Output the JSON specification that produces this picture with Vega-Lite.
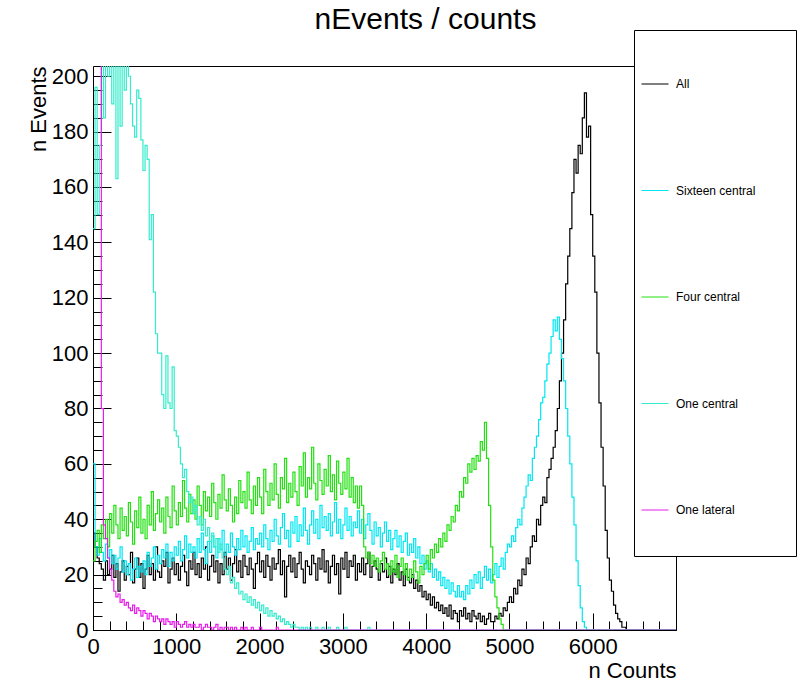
{
"$schema": "https://vega.github.io/schema/vega-lite/v6.json",
"width": 583, "height": 564,
"autosize": "none",
"padding": {"left": 93, "top": 66, "right": 122, "bottom": 52},
"background": "white",
"config": {
  "view": {"stroke": "black", "strokeWidth": 1},
  "font": "Liberation Sans",
  "axis": {"grid": false, "domain": false, "labelFont": "Liberation Sans", "titleFont": "Liberation Sans", "labelColor": "black", "titleColor": "black", "tickColor": "black", "tickWidth": 1, "titleFontWeight": "normal"}
},
"title": {"text": "nEvents / counts", "fontSize": 30, "font": "Liberation Sans", "fontWeight": "normal", "color": "black", "anchor": "middle", "dx": 41, "dy": 29, "baseline": "alphabetic", "offset": 0},
"data": {"values": [
{"x":0,"a":35,"b":60,"c":25,"d":145,"e":215},
{"x":25,"a":30,"b":30,"c":32,"d":196,"e":215},
{"x":50,"a":26,"b":27,"c":36,"d":150,"e":215},
{"x":75,"a":24,"b":33,"c":28,"d":175,"e":212},
{"x":100,"a":22,"b":28,"c":38,"d":210,"e":80},
{"x":125,"a":18,"b":25,"c":33,"d":185,"e":38},
{"x":150,"a":25,"b":31,"c":40,"d":215,"e":33},
{"x":175,"a":20,"b":26,"c":30,"d":200,"e":26},
{"x":200,"a":22,"b":29,"c":42,"d":210,"e":22},
{"x":225,"a":27,"b":24,"c":35,"d":190,"e":18},
{"x":250,"a":19,"b":27,"c":45,"d":212,"e":14},
{"x":275,"a":24,"b":22,"c":38,"d":163,"e":12},
{"x":300,"a":14,"b":26,"c":33,"d":205,"e":13},
{"x":325,"a":21,"b":30,"c":44,"d":182,"e":10},
{"x":350,"a":25,"b":21,"c":36,"d":210,"e":11},
{"x":375,"a":18,"b":25,"c":41,"d":195,"e":9},
{"x":400,"a":23,"b":20,"c":34,"d":215,"e":10},
{"x":425,"a":20,"b":24,"c":46,"d":200,"e":8},
{"x":450,"a":28,"b":18,"c":39,"d":190,"e":7},
{"x":475,"a":17,"b":22,"c":31,"d":182,"e":9},
{"x":500,"a":22,"b":26,"c":43,"d":178,"e":6},
{"x":525,"a":26,"b":19,"c":37,"d":195,"e":8},
{"x":550,"a":19,"b":23,"c":48,"d":192,"e":7},
{"x":575,"a":24,"b":21,"c":35,"d":177,"e":5},
{"x":600,"a":15,"b":25,"c":40,"d":166,"e":7},
{"x":625,"a":22,"b":20,"c":33,"d":175,"e":6},
{"x":650,"a":27,"b":28,"c":45,"d":170,"e":4},
{"x":675,"a":20,"b":23,"c":38,"d":141,"e":6},
{"x":700,"a":24,"b":26,"c":50,"d":150,"e":5},
{"x":725,"a":18,"b":30,"c":36,"d":122,"e":3},
{"x":750,"a":30,"b":22,"c":42,"d":107,"e":5},
{"x":775,"a":21,"b":27,"c":47,"d":100,"e":4},
{"x":800,"a":19,"b":24,"c":39,"d":100,"e":3},
{"x":825,"a":25,"b":29,"c":44,"d":85,"e":4},
{"x":850,"a":23,"b":26,"c":35,"d":80,"e":2},
{"x":875,"a":28,"b":31,"c":48,"d":99,"e":4},
{"x":900,"a":17,"b":23,"c":41,"d":82,"e":3},
{"x":925,"a":22,"b":28,"c":37,"d":80,"e":2},
{"x":950,"a":26,"b":25,"c":52,"d":95,"e":3},
{"x":975,"a":20,"b":30,"c":43,"d":72,"e":1},
{"x":1000,"a":24,"b":27,"c":38,"d":70,"e":3},
{"x":1025,"a":18,"b":32,"c":46,"d":66,"e":2},
{"x":1050,"a":23,"b":25,"c":41,"d":60,"e":1},
{"x":1075,"a":27,"b":29,"c":54,"d":55,"e":2},
{"x":1100,"a":21,"b":34,"c":44,"d":58,"e":3},
{"x":1125,"a":16,"b":26,"c":39,"d":50,"e":1},
{"x":1150,"a":25,"b":31,"c":49,"d":46,"e":2},
{"x":1175,"a":22,"b":28,"c":42,"d":48,"e":1},
{"x":1200,"a":28,"b":30,"c":47,"d":42,"e":2},
{"x":1225,"a":20,"b":26,"c":40,"d":45,"e":1},
{"x":1250,"a":24,"b":33,"c":52,"d":38,"e":1},
{"x":1275,"a":19,"b":28,"c":45,"d":41,"e":2},
{"x":1300,"a":26,"b":35,"c":38,"d":36,"e":0},
{"x":1325,"a":22,"b":29,"c":50,"d":40,"e":1},
{"x":1350,"a":30,"b":24,"c":43,"d":34,"e":2},
{"x":1375,"a":18,"b":32,"c":48,"d":37,"e":1},
{"x":1400,"a":23,"b":28,"c":41,"d":32,"e":1},
{"x":1425,"a":27,"b":34,"c":53,"d":35,"e":0},
{"x":1450,"a":21,"b":30,"c":46,"d":30,"e":1},
{"x":1475,"a":25,"b":26,"c":40,"d":33,"e":2},
{"x":1500,"a":17,"b":33,"c":49,"d":28,"e":0},
{"x":1525,"a":24,"b":29,"c":44,"d":31,"e":1},
{"x":1550,"a":20,"b":36,"c":56,"d":26,"e":0},
{"x":1575,"a":28,"b":27,"c":47,"d":22,"e":1},
{"x":1600,"a":22,"b":31,"c":43,"d":20,"e":1},
{"x":1625,"a":26,"b":28,"c":51,"d":23,"e":0},
{"x":1650,"a":18,"b":35,"c":45,"d":17,"e":1},
{"x":1675,"a":24,"b":30,"c":39,"d":19,"e":0},
{"x":1700,"a":29,"b":27,"c":48,"d":15,"e":1},
{"x":1725,"a":21,"b":33,"c":42,"d":17,"e":0},
{"x":1750,"a":25,"b":29,"c":54,"d":13,"e":0},
{"x":1775,"a":19,"b":36,"c":46,"d":14,"e":1},
{"x":1800,"a":27,"b":30,"c":50,"d":11,"e":0},
{"x":1825,"a":23,"b":34,"c":44,"d":13,"e":1},
{"x":1850,"a":20,"b":28,"c":57,"d":10,"e":0},
{"x":1875,"a":26,"b":32,"c":47,"d":12,"e":0},
{"x":1900,"a":22,"b":37,"c":42,"d":9,"e":1},
{"x":1925,"a":15,"b":29,"c":52,"d":11,"e":0},
{"x":1950,"a":24,"b":33,"c":45,"d":8,"e":0},
{"x":1975,"a":28,"b":31,"c":55,"d":10,"e":0},
{"x":2000,"a":21,"b":35,"c":48,"d":7,"e":1},
{"x":2025,"a":25,"b":30,"c":42,"d":9,"e":0},
{"x":2050,"a":19,"b":38,"c":58,"d":6,"e":0},
{"x":2075,"a":27,"b":33,"c":50,"d":8,"e":0},
{"x":2100,"a":23,"b":29,"c":45,"d":5,"e":0},
{"x":2125,"a":18,"b":36,"c":53,"d":7,"e":0},
{"x":2150,"a":26,"b":32,"c":47,"d":5,"e":0},
{"x":2175,"a":22,"b":40,"c":60,"d":6,"e":0},
{"x":2200,"a":24,"b":34,"c":49,"d":4,"e":1},
{"x":2225,"a":29,"b":31,"c":44,"d":5,"e":0},
{"x":2250,"a":20,"b":37,"c":55,"d":3,"e":0},
{"x":2275,"a":25,"b":42,"c":51,"d":4,"e":0},
{"x":2300,"a":12,"b":33,"c":62,"d":2,"e":0},
{"x":2325,"a":23,"b":36,"c":46,"d":3,"e":0},
{"x":2350,"a":27,"b":30,"c":53,"d":2,"e":0},
{"x":2375,"a":21,"b":39,"c":48,"d":1,"e":0},
{"x":2400,"a":26,"b":35,"c":57,"d":2,"e":0},
{"x":2425,"a":19,"b":41,"c":50,"d":1,"e":0},
{"x":2450,"a":24,"b":32,"c":45,"d":1,"e":0},
{"x":2475,"a":28,"b":38,"c":59,"d":0,"e":0},
{"x":2500,"a":22,"b":34,"c":52,"d":1,"e":0},
{"x":2525,"a":17,"b":44,"c":64,"d":0,"e":0},
{"x":2550,"a":25,"b":36,"c":48,"d":1,"e":0},
{"x":2575,"a":23,"b":31,"c":55,"d":0,"e":0},
{"x":2600,"a":20,"b":38,"c":51,"d":1,"e":0},
{"x":2625,"a":27,"b":43,"c":66,"d":0,"e":0},
{"x":2650,"a":24,"b":35,"c":53,"d":0,"e":0},
{"x":2675,"a":18,"b":40,"c":47,"d":1,"e":0},
{"x":2700,"a":26,"b":33,"c":60,"d":0,"e":0},
{"x":2725,"a":22,"b":45,"c":54,"d":0,"e":0},
{"x":2750,"a":29,"b":37,"c":49,"d":1,"e":0},
{"x":2775,"a":21,"b":41,"c":58,"d":0,"e":0},
{"x":2800,"a":25,"b":36,"c":52,"d":0,"e":0},
{"x":2825,"a":17,"b":42,"c":63,"d":1,"e":0},
{"x":2850,"a":23,"b":34,"c":50,"d":0,"e":0},
{"x":2875,"a":27,"b":39,"c":56,"d":0,"e":0},
{"x":2900,"a":20,"b":46,"c":47,"d":0,"e":0},
{"x":2925,"a":24,"b":35,"c":61,"d":1,"e":0},
{"x":2950,"a":13,"b":40,"c":53,"d":0,"e":0},
{"x":2975,"a":26,"b":33,"c":49,"d":0,"e":0},
{"x":3000,"a":22,"b":38,"c":57,"d":0,"e":0},
{"x":3025,"a":28,"b":44,"c":51,"d":1,"e":0},
{"x":3050,"a":19,"b":36,"c":62,"d":0,"e":0},
{"x":3075,"a":25,"b":41,"c":48,"d":0,"e":0},
{"x":3100,"a":23,"b":34,"c":55,"d":0,"e":0},
{"x":3125,"a":27,"b":39,"c":46,"d":0,"e":0},
{"x":3150,"a":18,"b":37,"c":52,"d":0,"e":0},
{"x":3175,"a":24,"b":43,"c":44,"d":0,"e":0},
{"x":3200,"a":21,"b":35,"c":52,"d":0,"e":0},
{"x":3225,"a":26,"b":40,"c":45,"d":0,"e":0},
{"x":3250,"a":20,"b":33,"c":30,"d":0,"e":0},
{"x":3275,"a":24,"b":38,"c":26,"d":0,"e":0},
{"x":3300,"a":28,"b":42,"c":28,"d":1,"e":0},
{"x":3325,"a":19,"b":36,"c":24,"d":0,"e":0},
{"x":3350,"a":23,"b":31,"c":27,"d":0,"e":0},
{"x":3375,"a":25,"b":39,"c":23,"d":0,"e":0},
{"x":3400,"a":22,"b":34,"c":26,"d":0,"e":0},
{"x":3425,"a":18,"b":37,"c":21,"d":0,"e":0},
{"x":3450,"a":24,"b":30,"c":25,"d":0,"e":0},
{"x":3475,"a":21,"b":35,"c":28,"d":0,"e":0},
{"x":3500,"a":26,"b":39,"c":22,"d":0,"e":0},
{"x":3525,"a":19,"b":32,"c":24,"d":0,"e":0},
{"x":3550,"a":23,"b":36,"c":20,"d":0,"e":0},
{"x":3575,"a":17,"b":29,"c":25,"d":0,"e":0},
{"x":3600,"a":22,"b":33,"c":21,"d":0,"e":0},
{"x":3625,"a":20,"b":36,"c":27,"d":0,"e":0},
{"x":3650,"a":24,"b":30,"c":19,"d":0,"e":0},
{"x":3675,"a":18,"b":34,"c":23,"d":0,"e":0},
{"x":3700,"a":21,"b":28,"c":26,"d":0,"e":0},
{"x":3725,"a":16,"b":32,"c":20,"d":0,"e":0},
{"x":3750,"a":22,"b":35,"c":24,"d":0,"e":0},
{"x":3775,"a":19,"b":27,"c":18,"d":0,"e":0},
{"x":3800,"a":17,"b":31,"c":22,"d":0,"e":0},
{"x":3825,"a":20,"b":28,"c":19,"d":0,"e":0},
{"x":3850,"a":15,"b":33,"c":25,"d":0,"e":0},
{"x":3875,"a":18,"b":26,"c":21,"d":0,"e":0},
{"x":3900,"a":14,"b":30,"c":17,"d":0,"e":0},
{"x":3925,"a":16,"b":24,"c":23,"d":0,"e":0},
{"x":3950,"a":12,"b":27,"c":20,"d":0,"e":0},
{"x":3975,"a":14,"b":22,"c":24,"d":0,"e":0},
{"x":4000,"a":11,"b":25,"c":27,"d":0,"e":0},
{"x":4025,"a":13,"b":21,"c":22,"d":0,"e":0},
{"x":4050,"a":9,"b":24,"c":29,"d":0,"e":0},
{"x":4075,"a":12,"b":19,"c":26,"d":0,"e":0},
{"x":4100,"a":8,"b":22,"c":31,"d":0,"e":0},
{"x":4125,"a":10,"b":18,"c":28,"d":0,"e":0},
{"x":4150,"a":7,"b":21,"c":33,"d":0,"e":0},
{"x":4175,"a":9,"b":16,"c":30,"d":0,"e":0},
{"x":4200,"a":6,"b":19,"c":35,"d":0,"e":0},
{"x":4225,"a":8,"b":15,"c":32,"d":0,"e":0},
{"x":4250,"a":5,"b":18,"c":38,"d":0,"e":0},
{"x":4275,"a":9,"b":13,"c":36,"d":0,"e":0},
{"x":4300,"a":4,"b":17,"c":41,"d":0,"e":0},
{"x":4325,"a":7,"b":14,"c":39,"d":0,"e":0},
{"x":4350,"a":6,"b":12,"c":45,"d":0,"e":0},
{"x":4375,"a":3,"b":16,"c":43,"d":0,"e":0},
{"x":4400,"a":7,"b":12,"c":50,"d":0,"e":0},
{"x":4425,"a":5,"b":14,"c":48,"d":0,"e":0},
{"x":4450,"a":8,"b":11,"c":55,"d":0,"e":0},
{"x":4475,"a":4,"b":16,"c":53,"d":0,"e":0},
{"x":4500,"a":6,"b":13,"c":60,"d":0,"e":0},
{"x":4525,"a":3,"b":18,"c":57,"d":0,"e":0},
{"x":4550,"a":7,"b":15,"c":62,"d":0,"e":0},
{"x":4575,"a":5,"b":20,"c":58,"d":0,"e":0},
{"x":4600,"a":4,"b":17,"c":63,"d":0,"e":0},
{"x":4625,"a":6,"b":21,"c":61,"d":0,"e":0},
{"x":4650,"a":3,"b":15,"c":68,"d":0,"e":0},
{"x":4675,"a":5,"b":19,"c":65,"d":0,"e":0},
{"x":4700,"a":2,"b":23,"c":75,"d":0,"e":0},
{"x":4725,"a":4,"b":18,"c":62,"d":0,"e":0},
{"x":4750,"a":6,"b":22,"c":45,"d":0,"e":0},
{"x":4775,"a":3,"b":17,"c":30,"d":0,"e":0},
{"x":4800,"a":3,"b":20,"c":18,"d":0,"e":0},
{"x":4825,"a":5,"b":24,"c":12,"d":0,"e":0},
{"x":4850,"a":4,"b":19,"c":8,"d":0,"e":0},
{"x":4875,"a":6,"b":23,"c":4,"d":0,"e":0},
{"x":4900,"a":5,"b":26,"c":2,"d":0,"e":0},
{"x":4925,"a":8,"b":22,"c":0,"d":0,"e":0},
{"x":4950,"a":7,"b":28,"c":0,"d":0,"e":0},
{"x":4975,"a":10,"b":31,"c":0,"d":0,"e":0},
{"x":5000,"a":12,"b":30,"c":0,"d":0,"e":0},
{"x":5025,"a":10,"b":34,"c":0,"d":0,"e":0},
{"x":5050,"a":15,"b":32,"c":0,"d":0,"e":0},
{"x":5075,"a":13,"b":37,"c":0,"d":0,"e":0},
{"x":5100,"a":18,"b":40,"c":0,"d":0,"e":0},
{"x":5125,"a":16,"b":38,"c":0,"d":0,"e":0},
{"x":5150,"a":22,"b":44,"c":0,"d":0,"e":0},
{"x":5175,"a":20,"b":48,"c":0,"d":0,"e":0},
{"x":5200,"a":26,"b":52,"c":0,"d":0,"e":0},
{"x":5225,"a":24,"b":56,"c":0,"d":0,"e":0},
{"x":5250,"a":30,"b":54,"c":0,"d":0,"e":0},
{"x":5275,"a":34,"b":62,"c":0,"d":0,"e":0},
{"x":5300,"a":32,"b":66,"c":0,"d":0,"e":0},
{"x":5325,"a":40,"b":70,"c":0,"d":0,"e":0},
{"x":5350,"a":38,"b":76,"c":0,"d":0,"e":0},
{"x":5375,"a":45,"b":82,"c":0,"d":0,"e":0},
{"x":5400,"a":48,"b":84,"c":0,"d":0,"e":0},
{"x":5425,"a":46,"b":90,"c":0,"d":0,"e":0},
{"x":5450,"a":55,"b":96,"c":0,"d":0,"e":0},
{"x":5475,"a":58,"b":100,"c":0,"d":0,"e":0},
{"x":5500,"a":62,"b":106,"c":0,"d":0,"e":0},
{"x":5525,"a":66,"b":112,"c":0,"d":0,"e":0},
{"x":5550,"a":72,"b":108,"c":0,"d":0,"e":0},
{"x":5575,"a":80,"b":113,"c":0,"d":0,"e":0},
{"x":5600,"a":90,"b":105,"c":0,"d":0,"e":0},
{"x":5625,"a":100,"b":98,"c":0,"d":0,"e":0},
{"x":5650,"a":112,"b":90,"c":0,"d":0,"e":0},
{"x":5675,"a":125,"b":80,"c":0,"d":0,"e":0},
{"x":5700,"a":135,"b":70,"c":0,"d":0,"e":0},
{"x":5725,"a":145,"b":60,"c":0,"d":0,"e":0},
{"x":5750,"a":158,"b":48,"c":0,"d":0,"e":0},
{"x":5775,"a":170,"b":38,"c":0,"d":0,"e":0},
{"x":5800,"a":165,"b":25,"c":0,"d":0,"e":0},
{"x":5825,"a":175,"b":16,"c":0,"d":0,"e":0},
{"x":5850,"a":172,"b":8,"c":0,"d":0,"e":0},
{"x":5875,"a":185,"b":3,"c":0,"d":0,"e":0},
{"x":5900,"a":194,"b":1,"c":0,"d":0,"e":0},
{"x":5925,"a":178,"b":0,"c":0,"d":0,"e":0},
{"x":5950,"a":182,"b":0,"c":0,"d":0,"e":0},
{"x":5975,"a":150,"b":0,"c":0,"d":0,"e":0},
{"x":6000,"a":135,"b":0,"c":0,"d":0,"e":0},
{"x":6025,"a":122,"b":0,"c":0,"d":0,"e":0},
{"x":6050,"a":100,"b":0,"c":0,"d":0,"e":0},
{"x":6075,"a":82,"b":0,"c":0,"d":0,"e":0},
{"x":6100,"a":66,"b":0,"c":0,"d":0,"e":0},
{"x":6125,"a":52,"b":0,"c":0,"d":0,"e":0},
{"x":6150,"a":36,"b":0,"c":0,"d":0,"e":0},
{"x":6175,"a":26,"b":0,"c":0,"d":0,"e":0},
{"x":6200,"a":18,"b":0,"c":0,"d":0,"e":0},
{"x":6225,"a":14,"b":0,"c":0,"d":0,"e":0},
{"x":6250,"a":9,"b":0,"c":0,"d":0,"e":0},
{"x":6275,"a":6,"b":0,"c":0,"d":0,"e":0},
{"x":6300,"a":4,"b":0,"c":0,"d":0,"e":0},
{"x":6325,"a":3,"b":0,"c":0,"d":0,"e":0},
{"x":6350,"a":1,"b":0,"c":0,"d":0,"e":0},
{"x":6375,"a":1,"b":0,"c":0,"d":0,"e":0},
{"x":6400,"a":0,"b":0,"c":0,"d":0,"e":0},
{"x":6425,"a":0,"b":0,"c":0,"d":0,"e":0},
{"x":6450,"a":0,"b":0,"c":0,"d":0,"e":0},
{"x":6475,"a":0,"b":0,"c":0,"d":0,"e":0},
{"x":6500,"a":0,"b":0,"c":0,"d":0,"e":0},
{"x":6525,"a":0,"b":0,"c":0,"d":0,"e":0},
{"x":6550,"a":0,"b":0,"c":0,"d":0,"e":0},
{"x":6575,"a":0,"b":0,"c":0,"d":0,"e":0},
{"x":6600,"a":0,"b":0,"c":0,"d":0,"e":0},
{"x":6625,"a":0,"b":0,"c":0,"d":0,"e":0},
{"x":6650,"a":0,"b":0,"c":0,"d":0,"e":0},
{"x":6675,"a":0,"b":0,"c":0,"d":0,"e":0},
{"x":6700,"a":0,"b":0,"c":0,"d":0,"e":0},
{"x":6725,"a":0,"b":0,"c":0,"d":0,"e":0},
{"x":6750,"a":0,"b":0,"c":0,"d":0,"e":0},
{"x":6775,"a":0,"b":0,"c":0,"d":0,"e":0},
{"x":6800,"a":0,"b":0,"c":0,"d":0,"e":0},
{"x":6825,"a":0,"b":0,"c":0,"d":0,"e":0},
{"x":6850,"a":0,"b":0,"c":0,"d":0,"e":0},
{"x":6875,"a":0,"b":0,"c":0,"d":0,"e":0},
{"x":6900,"a":0,"b":0,"c":0,"d":0,"e":0},
{"x":6925,"a":0,"b":0,"c":0,"d":0,"e":0},
{"x":6950,"a":0,"b":0,"c":0,"d":0,"e":0},
{"x":6975,"a":0,"b":0,"c":0,"d":0,"e":0},
{"x":7000,"a":0,"b":0,"c":0,"d":0,"e":0}
]},
"transform": [{"fold": ["a","b","c","d","e"], "as": ["key","value"]}],
"layer": [
  {
    "mark": {"type": "line", "interpolate": "step-after", "strokeWidth": 1.2, "clip": true},
    "encoding": {
      "x": {"field": "x", "type": "quantitative",
        "scale": {"domain": [0, 7000], "nice": false, "zero": false},
        "axis": {"orient": "bottom", "values": [0,1000,2000,3000,4000,5000,6000], "format": "d", "ticks": false, "labelFontSize": 22, "labelPadding": 6, "labelFlush": false, "labelOverlap": false,
          "title": "n Counts", "titleFontSize": 22, "titleAnchor": "end", "titleAlign": "right", "titleBaseline": "alphabetic", "titleX": 583, "titleY": 47}},
      "y": {"field": "value", "type": "quantitative",
        "scale": {"domain": [0, 203.7], "nice": false},
        "axis": {"orient": "left", "values": [0,20,40,60,80,100,120,140,160,180,200], "format": "d", "ticks": false, "labelFontSize": 22, "labelPadding": 5, "labelOverlap": false,
          "title": "n Events", "titleFontSize": 22, "titleAngle": 270, "titleAlign": "right", "titleBaseline": "alphabetic", "titleX": -48, "titleY": 0}},
      "color": {"field": "key", "type": "nominal",
        "scale": {"domain": ["a","b","c","d","e"], "range": ["#000000", "#00e6f2", "#22e011", "#33eccc", "#e81ce8"]},
        "legend": {"orient": "none", "legendX": 541, "legendY": -36, "direction": "vertical", "title": null,
          "symbolType": "stroke", "symbolSize": 729, "symbolStrokeWidth": 1,
          "labelFont": "Liberation Sans", "labelFontSize": 12, "labelColor": "black", "labelLimit": 300,
          "rowPadding": 86.5, "padding": 40, "strokeColor": "black", "fillColor": "white",
          "symbolOffset": -33, "labelOffset": 7,
          "labelExpr": "datum.label == 'a' ? 'All' : datum.label == 'b' ? 'Sixteen central' : datum.label == 'c' ? 'Four central' : datum.label == 'd' ? 'One central' : 'One lateral'"}}
    }
  },
  {
    "transform": [{"filter": "datum.x == 7000"}],
    "mark": {"type": "point", "opacity": 0, "clip": true},
    "encoding": {
      "x": {"field": "x", "type": "quantitative", "scale": {"domain": [0, 7000], "nice": false, "zero": false},
        "axis": {"orient": "bottom", "values": [0,1000,2000,3000,4000,5000,6000,7000], "labels": false, "tickSize": -17, "title": null}},
      "y": {"field": "value", "type": "quantitative", "scale": {"domain": [0, 203.7], "nice": false},
        "axis": {"orient": "left", "values": [0,20,40,60,80,100,120,140,160,180,200], "labels": false, "tickSize": -18, "title": null}}
    }
  },
  {
    "transform": [{"filter": "datum.x == 7000"}],
    "mark": {"type": "point", "opacity": 0, "clip": true},
    "encoding": {
      "x": {"field": "x", "type": "quantitative", "scale": {"domain": [0, 7000], "nice": false, "zero": false},
        "axis": {"orient": "bottom", "values": [0,200,400,600,800,1000,1200,1400,1600,1800,2000,2200,2400,2600,2800,3000,3200,3400,3600,3800,4000,4200,4400,4600,4800,5000,5200,5400,5600,5800,6000,6200,6400,6600,6800,7000], "labels": false, "tickSize": -9, "title": null}},
      "y": {"field": "value", "type": "quantitative", "scale": {"domain": [0, 203.7], "nice": false},
        "axis": {"orient": "left", "values": [0,5,10,15,20,25,30,35,40,45,50,55,60,65,70,75,80,85,90,95,100,105,110,115,120,125,130,135,140,145,150,155,160,165,170,175,180,185,190,195,200], "labels": false, "tickSize": -9, "title": null}}
    }
  }
],
"resolve": {"axis": {"x": "independent", "y": "independent"}}
}
